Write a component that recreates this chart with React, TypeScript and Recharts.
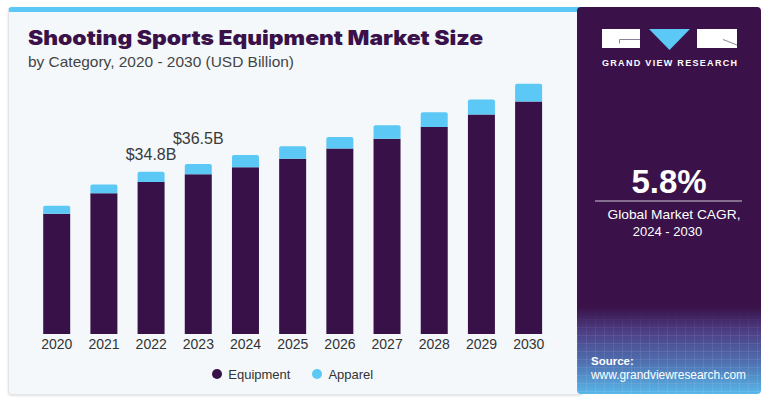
import React from 'react';
import { BarChart, Bar, XAxis, YAxis, Legend, LabelList } from 'recharts';

const years = ['2020', '2021', '2022', '2023', '2024', '2025', '2026', '2027', '2028', '2029', '2030'];
const equipment = [25.8, 30.2, 32.6, 34.3, 35.8, 37.6, 39.8, 41.9, 44.4, 47.1, 49.9];
const apparel = [1.7, 1.9, 2.2, 2.2, 2.6, 2.7, 2.5, 2.9, 3.2, 3.2, 3.8];
const annotations = ['', '', '$34.8B', '$36.5B', '', '', '', '', '', '', ''];
const seriesNames = ['Equipment', 'Apparel'];

const labelLift = [0, 0, 12, 20, 0, 0, 0, 0, 0, 0, 0];

const data = years.map((y, i) => ({
  year: y,
  Equipment: equipment[i],
  Apparel: apparel[i],
  label: annotations[i],
}));

const PURPLE = '#371147';
const CYAN = '#5bc8f5';
const FONT = '"Liberation Sans", Arial, sans-serif';

const AnnotationLabel = (props: any) => {
  const { x, y, width, value, index } = props;
  if (!value) return null;
  const idx = typeof index === 'number' ? index : annotations.indexOf(value);
  return (
    <text
      x={x + width / 2}
      y={y - labelLift[idx]}
      textAnchor="middle"
      fontSize={16}
      fill="#3a3a3a"
      fontFamily={FONT}
    >
      {value}
    </text>
  );
};

const LegendContent = (props: any) => {
  const payload = [...(props.payload || [])].sort(
    (a: any, b: any) => seriesNames.indexOf(a.value) - seriesNames.indexOf(b.value)
  );
  return (
    <div style={{ display: 'flex', justifyContent: 'center', alignItems: 'center', height: 20, fontFamily: FONT, fontSize: 13, color: '#333' }}>
      {payload.map((p: any, i: number) => (
        <div key={i} style={{ display: 'flex', alignItems: 'center', marginLeft: i === 0 ? 0 : 22 }}>
          <span style={{ width: 10, height: 10, borderRadius: 5, background: p.color, display: 'inline-block', marginRight: 6 }} />
          <span>{p.value}</span>
        </div>
      ))}
    </div>
  );
};

export default function App() {
  return (
    <div style={{ position: 'absolute', left: 0, top: 0, width: 772, height: 397, background: '#ffffff', overflow: 'hidden', fontFamily: FONT }}>
      {/* left card */}
      <div style={{ position: 'absolute', left: 8, top: 7, width: 575, height: 388, boxSizing: 'border-box', background: '#f4f8fb', border: '1px solid #dfe5ea', borderTop: `5px solid ${CYAN}`, borderRadius: 4, boxShadow: '0 1px 3px rgba(0,0,0,0.12)' }} />
      {/* right panel */}
      <div style={{ position: 'absolute', left: 577, top: 7, width: 184, height: 387, borderRadius: 4, overflow: 'hidden', background: 'linear-gradient(180deg, #3a1249 0px, #3a1249 300px, #4d3f86 325px, #4f6fb0 355px, #58b6e8 387px)' }}>
        <svg width={184} height={387} style={{ position: 'absolute', left: 0, top: 0 }}>
          <defs>
            <pattern id="grid" width="9" height="8" patternUnits="userSpaceOnUse">
              <path d="M9 0 L0 0 0 8" fill="none" stroke="rgba(255,255,255,0.22)" strokeWidth="0.7" />
            </pattern>
            <linearGradient id="fade" x1="0" y1="0" x2="0" y2="1">
              <stop offset="0" stopColor="#fff" stopOpacity="0" />
              <stop offset="0.3" stopColor="#fff" stopOpacity="1" />
            </linearGradient>
            <mask id="m">
              <rect x="0" y="305" width="184" height="82" fill="url(#fade)" />
            </mask>
          </defs>
          <rect x="0" y="305" width="184" height="82" fill="url(#grid)" mask="url(#m)" />
        </svg>
      </div>

      <div style={{ position: 'absolute', left: 0, top: 0 }}>
        <BarChart
          width={578}
          height={397}
          data={data}
          margin={{ top: 54.4, right: 25.7, bottom: 13, left: 33.2 }}
          style={{ fontFamily: FONT }}
        >
          <XAxis
            dataKey="year"
            axisLine={false}
            tickLine={false}
            tickSize={0}
            tickMargin={5}
            height={30}
            interval={0}
            tick={{ fontSize: 14, fill: '#333333', fontFamily: FONT }}
          />
          <YAxis hide domain={[0, 60]} />
          <Legend verticalAlign="bottom" height={20} content={<LegendContent />} />
          <Bar dataKey={seriesNames[0]} stackId="a" fill={PURPLE} barSize={27} isAnimationActive={false} legendType="circle" />
          <Bar dataKey={seriesNames[1]} stackId="a" fill={CYAN} barSize={27} radius={[2, 2, 0, 0]} isAnimationActive={false} legendType="circle">
            <LabelList dataKey="label" content={<AnnotationLabel />} />
          </Bar>
        </BarChart>
      </div>

      {/* static texts and logo */}
      <svg width={772} height={397} style={{ position: 'absolute', left: 0, top: 0, pointerEvents: 'none' }}>
        <text x={28} y={45} fontFamily='Inter, "Liberation Sans", sans-serif' fontWeight={900} fontSize={20} fill="#3a1249" textLength={455} lengthAdjust="spacingAndGlyphs">
          Shooting Sports Equipment Market Size
        </text>
        <text x={28} y={67} fontFamily={FONT} fontSize={15} fill="#444" textLength={266} lengthAdjust="spacingAndGlyphs">
          by Category, 2020 - 2030 (USD Billion)
        </text>

        {/* logo */}
        <rect x={602} y={29} width={38} height={19} fill="#ffffff" />
        <path d="M640 39.5 L619.5 39.5 L619.5 43.5" fill="none" stroke="#8c8199" strokeWidth={1} />
        <path d="M649 29 L690 29 L669.5 50 Z" fill={CYAN} />
        <rect x={697} y={29} width={40} height={19} fill="#ffffff" />
        <path d="M723 39.5 L737 45" fill="none" stroke="#8c8199" strokeWidth={1} />
        <text x={602} y={66} fontFamily={FONT} fontWeight={700} fontSize={9} fill="#ffffff" textLength={135} lengthAdjust="spacing">
          GRAND VIEW RESEARCH
        </text>

        <text x={669} y={193} textAnchor="middle" fontFamily={FONT} fontWeight={700} fontSize={33} fill="#ffffff">
          5.8%
        </text>
        <line x1={595} y1={201} x2={742} y2={201} stroke="#cfc7d8" strokeWidth={1.2} />
        <text x={674} y={219} textAnchor="middle" fontFamily={FONT} fontSize={13} fill="#ffffff" textLength={133} lengthAdjust="spacingAndGlyphs">
          Global Market CAGR,
        </text>
        <text x={667.5} y={235.5} textAnchor="middle" fontFamily={FONT} fontSize={13} fill="#ffffff">
          2024 - 2030
        </text>

        <text x={591} y={365} fontFamily={FONT} fontWeight={700} fontSize={11.5} fill="#ffffff">
          Source:
        </text>
        <text x={591} y={379} fontFamily={FONT} fontSize={12} fill="#ffffff" textLength={155} lengthAdjust="spacingAndGlyphs">
          www.grandviewresearch.com
        </text>
      </svg>
    </div>
  );
}
